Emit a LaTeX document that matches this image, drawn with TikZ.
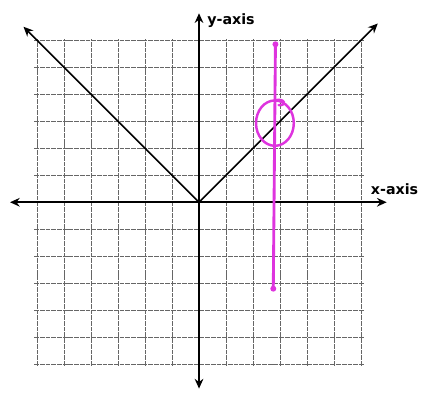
\documentclass[tikz,border=0pt]{standalone}
\usepackage{fontspec}
\setsansfont{DejaVu Sans}
\usepackage{tikz}
\usetikzlibrary{arrows.meta}
\definecolor{pen}{RGB}{222,52,222}

\begin{document}
\begin{tikzpicture}[every node/.style={font=\sffamily\bfseries\fontsize{15}{18}\selectfont, inner sep=0pt}, >={Stealth[length=3.6mm, width=3.2mm]}, x=1cm, y=1cm]
	\useasboundingbox (-7.37,-7.06) rectangle (8.22,7.49);
	% grid
	\begin{scope}[black!60, line width=1pt, dash pattern=on 5pt off 1pt]
		\foreach \k in {-6,...,6} {\draw (\k,-6.05) -- (\k,6.05); \draw (-6.1,\k) -- (6.1,\k);}
	\end{scope}
	% axes
	\draw[<->, line width=2.1pt] (-7,0) -- (6.95,0);
	\draw[<->, line width=2.1pt] (0,-6.9) -- (0,7);
	\node[anchor=base west] (ylabel) at (0.3,6.6) {y-axis};
	\node[anchor=base west] (xlabel) at (6.36,0.27) {x-axis};
	% y = |x|
	\draw[<->, line width=1.8pt] (-6.5,6.5) -- (0,0) -- (6.62,6.62);
	% vertical line test
	\begin{scope}[pen, line width=3pt, line cap=round]
		\draw (2.75,-3.2) -- (2.83,5.85);
		\fill (2.83,5.85) circle (0.11);
		\fill (2.75,-3.2) circle (0.11);
		\draw[line width=2.6pt] (2.81,2.93) ellipse [x radius=0.7, y radius=0.84];
		\draw[line width=2.6pt] (2.78,3.76) .. controls (3.2,3.9) and (3.25,3.55) .. (2.95,3.6);
	\end{scope}
\end{tikzpicture}
\end{document}
